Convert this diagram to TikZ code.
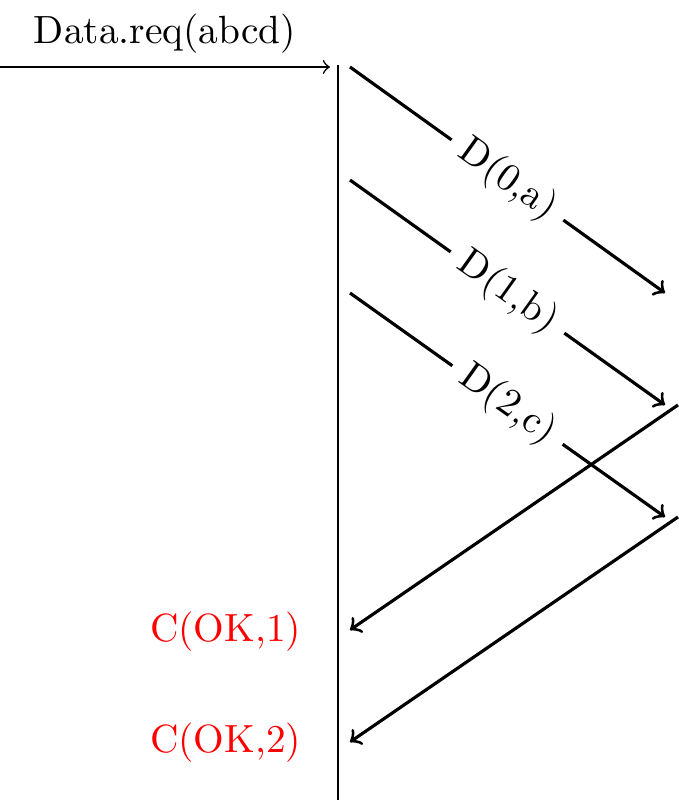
\documentclass[tikz,border=0pt]{standalone}
\begin{document}
\begin{tikzpicture}[x=0.254pt,y=-0.254pt,
  thinline/.style={line width=0.4pt},
  msg/.style={thick,->},
  lbl/.style={midway,sloped,fill=white},
  conf/.style={red,anchor=east}]
\useasboundingbox (0,0) rectangle (678,800);
% coordinates
\coordinate (vtop) at (338,65);
\coordinate (vbot) at (338,800);
\coordinate (inS) at (0,67);
\coordinate (inE) at (330,67);
\coordinate (d0s) at (350,67);
\coordinate (d0e) at (665,293);
\coordinate (d1s) at (350,180);
\coordinate (d1e) at (665,405);
\coordinate (d2s) at (350,293);
\coordinate (d2e) at (665,517);
\coordinate (c1s) at (678,405);
\coordinate (c1e) at (350,630);
\coordinate (c2s) at (678,517);
\coordinate (c2e) at (350,742);
% time line
\draw[thinline] (vtop) -- (vbot);
% request
\draw[thinline,->] (inS) -- node[midway,above] (req) {Data.req(abcd)} (inE);
% data frames
\draw[msg] (d0s) -- node[lbl] (l0) {D(0,a)} (d0e);
\draw[msg] (d1s) -- node[lbl] (l1) {D(1,b)} (d1e);
\draw[msg] (d2s) -- node[lbl] (l2) {D(2,c)} (d2e);
% confirmations
\draw[msg] (c1s) -- (c1e);
\draw[msg] (c2s) -- (c2e);
\node[conf] (ok1) at (315,632) {C(OK,1)};
\node[conf] (ok2) at (315,743) {C(OK,2)};
\end{tikzpicture}
\end{document}
